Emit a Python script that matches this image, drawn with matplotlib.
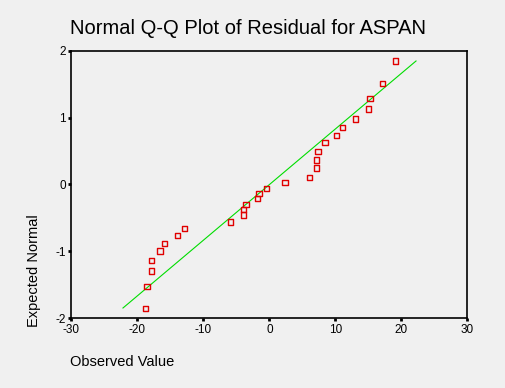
import numpy as np
import matplotlib
matplotlib.use("Agg")
import matplotlib.pyplot as plt

# ── Data ─────────────────────────────────────────────────────────────────────
observed = [19.06, 17.09, 15.27, 14.97, 13.00, 11.03, 10.12, 8.45, 7.39, 7.09,
            7.09, 6.03, 2.39, -0.48, -1.55, -1.85, -3.56, -3.97, -3.97, -5.94,
            -12.91, -13.97, -15.94, -16.55, -17.91, -17.91, -18.52, -18.82]
expected = [1.85, 1.51, 1.29, 1.13, 0.977, 0.857, 0.737, 0.632, 0.497, 0.363,
            0.243, 0.108, 0.033, -0.057, -0.132, -0.213, -0.297, -0.372, -0.461, -0.566,
            -0.656, -0.761, -0.881, -0.996, -1.136, -1.30, -1.525, -1.855]
line_x = [-22.2, 22.2]
line_y = [-1.85, 1.85]
xticks = [-30, -20, -10, 0, 10, 20, 30]
yticks = [-2, -1, 0, 1, 2]

plt.rcParams['font.family'] = ['Liberation Sans', 'DejaVu Sans']
plt.rcParams['axes.unicode_minus'] = False
BG = "#f0f0f0"

fig = plt.figure(figsize=(5.06, 3.88), dpi=100, facecolor=BG)
ax = fig.add_axes([0.1413, 0.1804, 0.7826, 0.6882], facecolor=BG)

ax.plot(line_x, line_y, color="#00dd00", lw=0.8)
ax.scatter(observed, expected, marker="s", s=16, facecolors="none",
           edgecolors="#e00000", linewidths=1.0, zorder=3)

ax.set_xlim(-30, 30)
ax.set_ylim(-2, 2)
ax.set_xticks(xticks)
ax.set_yticks(yticks)
ax.tick_params(direction="out", length=2, width=2, labelsize=8.5, pad=2)
for s in ax.spines.values():
    s.set_linewidth(1.2)

fig.text(0.138, 0.927, "Normal Q-Q Plot of Residual for ASPAN",
         fontsize=14.5, ha="left", va="center")
fig.text(0.138, 0.067, "Observed Value", fontsize=10.5, ha="left", va="center")
fig.text(0.067, 0.157, "Expected Normal", fontsize=10.5, rotation=90,
         ha="center", va="bottom")

plt.savefig("out.png", dpi=100, facecolor=BG)
